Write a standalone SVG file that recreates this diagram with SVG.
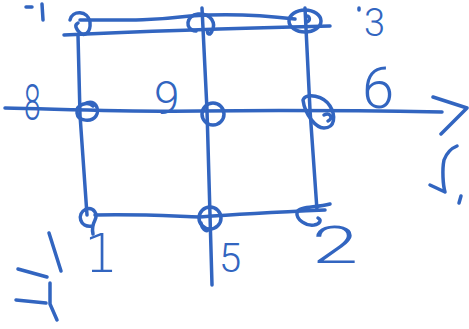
<svg xmlns="http://www.w3.org/2000/svg" width="469" height="329" viewBox="0 0 469 329">
<style>
.ln{stroke:#3265c0;stroke-width:3.5;fill:none;stroke-linecap:round;stroke-linejoin:round}
.lb{fill:#3265c0;font-family:Roboto,"DejaVu Sans",sans-serif;font-weight:300}
</style>
<rect width="469" height="329" fill="#fff"/>
<g id="connectors" class="ln">
<path d="M64,35 C150,31 250,28 330,26"/>
<path d="M80,20 C120,20 150,21 190,16 C230,13 270,16 295,19"/>
<path d="M78,35 L80,115 L87,215"/>
<path d="M202,8 L207,110 L212,285"/>
<path d="M305,8 L310,110 L317,210"/>
<path d="M5,108 C60,109 120,112 200,111 C300,110 380,111 442,112"/>
<path d="M433,97 L467,108 L441,134"/>
<path d="M95,215 C140,214 170,216 200,217 C240,214 280,212 325,210"/>
</g>
<g id="n-top-left"><path class="ln" d="M70,20 C72,10 88,10 90,22 C91,34 84,36 80,33 C76,29 74,25 78,23"/></g>
<g id="n-top-mid"><path class="ln" d="M196,31 C184,30 186,15 198,14 C212,13 216,24 212,31 C210,36 206,34 208,30"/></g>
<g id="n-top-right"><ellipse class="ln" cx="305" cy="21" rx="16" ry="11"/><path class="ln" d="M306,16 C310,15 311,22 306,22"/></g>
<g id="n-mid-left"><path class="ln" d="M84,104 C96,98 100,110 96,116 C92,122 78,122 77,113 C76,104 88,101 93,106"/></g>
<g id="n-mid-mid"><circle class="ln" cx="213" cy="114" r="11"/></g>
<g id="n-mid-right"><path class="ln" d="M303,100 C306,92 324,96 330,106 C336,116 335,128 324,128 C316,128 305,115 303,100 Z"/><path class="ln" d="M324,115 C330,112 334,118 328,121"/></g>
<g id="n-bot-left"><path class="ln" d="M92,226 C80,228 76,214 86,209 C94,207 98,214 95,220 C93,224 92,230 93,234"/></g>
<g id="n-bot-mid"><circle class="ln" cx="210" cy="218" r="11"/><path class="ln" d="M201,223 C202,229 206,232 208,230"/></g>
<g id="n-bot-right"><path class="ln" d="M330,204 C315,208 300,206 297,212 C296,220 306,226 314,225 C320,224 322,220 318,218"/></g>
<g id="labels" class="lb">
<text x="0" y="0" font-size="50" transform="translate(24,120) scale(0.6,1)">8</text>
<text x="154" y="114" font-size="46">9</text>
<text x="364" y="36" font-size="38">3</text>
<text x="362" y="108" font-size="58">6</text>
<text x="84" y="272" font-size="54" font-family="DejaVu Sans" font-weight="200">1</text>
<text x="219" y="272" font-size="40">5</text>
<text x="0" y="0" font-size="52" transform="translate(312,263) scale(1.6,1)">2</text>
</g>
<g id="marks" class="ln">
<path d="M26,7 L32,7"/>
<path d="M42,4 L43,20"/>
<path d="M359,8 L359,10"/>
<path d="M457,146 C452,148 447,152 444,160 C442,170 443,185 445,192 L430,185"/>
<path d="M461,196 L459,203"/>
<path d="M49,233 L61,271"/>
<path d="M18,269 L47,277"/>
<path d="M16,300 L46,303"/>
<path d="M50,283 L50,304 L57,320"/>
</g>
</svg>
